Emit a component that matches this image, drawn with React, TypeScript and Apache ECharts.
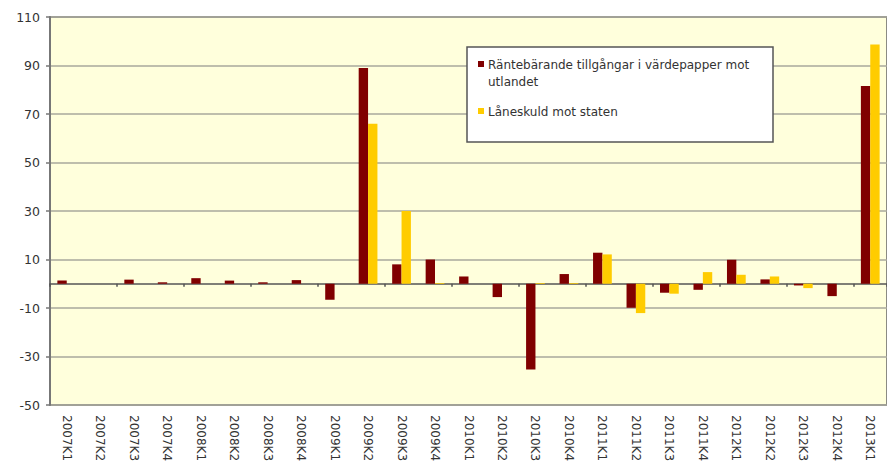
import React, { useEffect, useRef } from "react";
import * as echarts from "echarts";

const categories = [
  "2007K1", "2007K2", "2007K3", "2007K4",
  "2008K1", "2008K2", "2008K3", "2008K4",
  "2009K1", "2009K2", "2009K3", "2009K4",
  "2010K1", "2010K2", "2010K3", "2010K4",
  "2011K1", "2011K2", "2011K3", "2011K4",
  "2012K1", "2012K2", "2012K3", "2012K4",
  "2013K1",
];
const seriesNames = [
  "Räntebärande tillgångar i värdepapper mot utlandet",
  "Låneskuld mot staten",
];
const legendLines = [
  ["Räntebärande tillgångar i värdepapper mot", "utlandet"],
  ["Låneskuld mot staten"],
];
const tillgangar = [
  1.3, 0, 1.7, 0.6, 2.3, 1.3, 0.6, 1.5, -6.6, 89, 8, 10, 3, -5.5, -35.4, 4,
  12.8, -9.9, -3.7, -2.5, 9.9, 1.8, -0.7, -5.1, 81.5,
];
const laneskuld = [
  0, 0, 0, 0, 0, 0, 0, 0, 0, 66, 30, 0.3, 0, 0, 0.3, 0.3,
  12.1, -12.1, -4.1, 4.8, 3.7, 3.0, -1.8, 0, 98.7,
];
const colors = ["#800000", "#FFCC00"];

export default function App() {
  const ref = useRef<HTMLDivElement>(null);
  useEffect(() => {
    if (!ref.current) return;
    const chart = echarts.init(ref.current, undefined, { renderer: "svg" });
    const font = "DejaVu Sans";
    chart.setOption({
      animation: false,
      backgroundColor: "#ffffff",
      grid: {
        left: 50,
        top: 17,
        right: -6,
        bottom: 62,
        show: true,
        backgroundColor: "#FFFFDC",
        borderColor: "#666",
        borderWidth: 1.5,
      },
      xAxis: [
        {
          type: "category",
          data: categories,
          position: "bottom",
          axisLine: { show: false, onZero: false },
          axisTick: { show: false },
          axisLabel: {
            rotate: -90,
            interval: 0,
            margin: 10,
            fontSize: 12,
            fontFamily: font,
            color: "#333",
          },
        },
        {
          type: "category",
          data: categories,
          position: "bottom",
          axisLine: { show: true, onZero: true, lineStyle: { color: "#555", width: 1.5 } },
          axisTick: { show: true, length: 3, lineStyle: { color: "#555", width: 1.5 } },
          axisLabel: { show: false },
        },
      ],
      yAxis: {
        type: "value",
        min: -50,
        max: 110,
        interval: 20,
        axisLine: { show: true, lineStyle: { color: "#777", width: 2 } },
        axisTick: { show: true, length: 4, lineStyle: { color: "#777", width: 1.5 } },
        axisLabel: { fontSize: 12.5, fontFamily: font, color: "#333", margin: 10 },
        splitLine: { show: true, lineStyle: { color: "#a8a89c", width: 1.5 } },
      },
      series: [
        {
          name: seriesNames[0],
          type: "bar",
          data: tillgangar,
          itemStyle: { color: colors[0] },
          barGap: "0%",
          barCategoryGap: "44%",
        },
        {
          name: seriesNames[1],
          type: "bar",
          data: laneskuld,
          itemStyle: { color: colors[1] },
          barGap: "0%",
          barCategoryGap: "44%",
        },
      ],
      graphic: [
        {
          type: "rect",
          z: 10,
          shape: { x: 467, y: 47, width: 306, height: 95 },
          style: { fill: "#ffffff", stroke: "#555", lineWidth: 1.5 },
        },
        {
          type: "rect",
          z: 11,
          shape: { x: 478, y: 61, width: 6, height: 6 },
          style: { fill: colors[0] },
        },
        {
          type: "text",
          z: 11,
          x: 488,
          y: 56,
          style: {
            text: legendLines[0].join("\n"),
            font: `12px '${font}'`,
            fill: "#333",
            lineHeight: 17,
          },
        },
        {
          type: "rect",
          z: 11,
          shape: { x: 478, y: 108, width: 6, height: 6 },
          style: { fill: colors[1] },
        },
        {
          type: "text",
          z: 11,
          x: 488,
          y: 103,
          style: {
            text: legendLines[1].join("\n"),
            font: `12px '${font}'`,
            fill: "#333",
            lineHeight: 17,
          },
        },
      ],
    });
    return () => chart.dispose();
  }, []);
  return <div ref={ref} style={{ width: 887, height: 467, position: "absolute", left: 0, top: 0 }} />;
}
